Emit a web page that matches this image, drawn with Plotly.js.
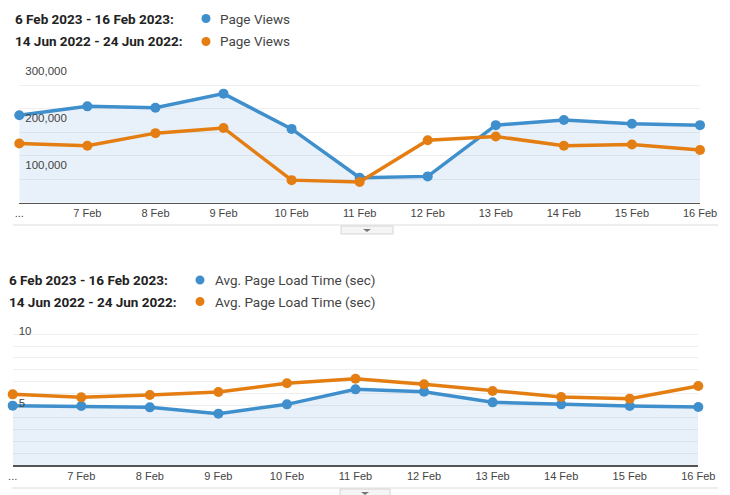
<!DOCTYPE html>
<html>
<head>
<meta charset="utf-8">
<script src="https://cdn.plot.ly/plotly-3.0.1.min.js"></script>
<style>
  html, body { margin: 0; padding: 0; background: #fff; }
  #plot { width: 730px; height: 495px; }
</style>
</head>
<body>
<div id="plot"></div>
<script>
// Categories and tick labels
const dates = ['6 Feb', '7 Feb', '8 Feb', '9 Feb', '10 Feb', '11 Feb', '12 Feb', '13 Feb', '14 Feb', '15 Feb', '16 Feb'];
const tickLabels = ['...', '7 Feb', '8 Feb', '9 Feb', '10 Feb', '11 Feb', '12 Feb', '13 Feb', '14 Feb', '15 Feb', '16 Feb'];

// Page views (top chart)
const viewsCurrent = [186000, 205000, 202000, 232000, 157000, 53000, 56000, 165000, 176000, 168000, 165000];
const viewsPrevious = [126000, 121000, 148000, 159000, 48000, 44000, 133000, 141000, 121000, 124000, 112000];

// Avg. page load time in seconds (bottom chart)
const loadCurrent = [4.16, 4.13, 4.04, 3.6, 4.25, 5.3, 5.14, 4.39, 4.25, 4.13, 4.06];
const loadPrevious = [4.95, 4.74, 4.91, 5.12, 5.73, 6.05, 5.66, 5.19, 4.77, 4.65, 5.54];

// Legend texts
const rangeCurrent = '6 Feb 2023 - 16 Feb 2023:';
const rangePrevious = '14 Jun 2022 - 24 Jun 2022:';

const BLUE = '#3f8fcd';
const ORANGE = '#e47e12';
const FILL = 'rgba(63,143,205,0.12)';
const GRID = '#efefef';

// pixel -> paper helpers (page is 730x495)
const W = 730, H = 495;
const px = x => x / W;
const py = y => 1 - y / H;

function line(x, y, color, xa, ya, fill) {
    return {
        x: x, y: y, xaxis: xa, yaxis: ya,
        type: 'scatter', mode: 'lines+markers',
        line: { color: color, width: 3.5 },
        marker: { color: color, size: 10 },
        fill: fill ? 'tozeroy' : 'none',
        fillcolor: FILL,
        cliponaxis: false,
        hoverinfo: 'skip'
    };
}

const data = [
    line(dates, viewsCurrent, BLUE, 'x', 'y', true),
    line(dates, viewsPrevious, ORANGE, 'x', 'y', false),
    line(dates, loadCurrent, BLUE, 'x2', 'y2', true),
    line(dates, loadPrevious, ORANGE, 'x2', 'y2', false)
];

const xCommon = {
    type: 'category',
    range: [0, 10],
    tickvals: dates,
    ticktext: tickLabels,
    ticks: '',
    showgrid: false,
    showline: true,
    linecolor: '#555',
    linewidth: 1.5,
    zeroline: false,
    ticklabeloverflow: 'allow',
    tickfont: { family: 'Liberation Sans, Arial', size: 11, color: '#444' },
    fixedrange: true
};

const yFont = { family: 'Liberation Sans, Arial', size: 11.5, color: '#444' };

// Legend labels as annotations
function legendText(x, y, text, bold) {
    return {
        xref: 'paper', yref: 'paper', x: px(x), y: py(y),
        xanchor: 'left', yanchor: 'middle', showarrow: false,
        text: bold ? '<b>' + text + '</b>' : text,
        font: { family: 'Roboto', size: 13.5, color: bold ? '#222' : '#444' }
    };
}

function dot(cx, cy, color) {
    const r = 4.5;
    return {
        type: 'circle', xref: 'paper', yref: 'paper',
        x0: px(cx - r), x1: px(cx + r), y0: py(cy + r), y1: py(cy - r),
        fillcolor: color, line: { width: 0 }
    };
}

function handle(x0, y0, x1, y1) {
    return [
        { type: 'rect', xref: 'paper', yref: 'paper', x0: px(x0), x1: px(x1), y0: py(y1), y1: py(y0),
          fillcolor: '#f5f5f5', line: { color: '#d6d6d6', width: 1 } },
        { type: 'path', xref: 'paper', yref: 'paper',
          path: `M ${px((x0 + x1) / 2 - 4)} ${py(y0 + 3)} L ${px((x0 + x1) / 2 + 4)} ${py(y0 + 3)} L ${px((x0 + x1) / 2)} ${py(y0 + 6)} Z`,
          fillcolor: '#777', line: { width: 0 } }
    ];
}

const layout = {
    width: W, height: H,
    margin: { l: 0, r: 0, t: 0, b: 0 },
    paper_bgcolor: '#fff',
    plot_bgcolor: 'rgba(0,0,0,0)',
    showlegend: false,
    xaxis: Object.assign({}, xCommon, { domain: [px(19.3), px(700)], anchor: 'y' }),
    yaxis: {
        domain: [py(202.7), py(61.7)],
        anchor: 'x',
        range: [0, 300000],
        tickvals: [0, 50000, 100000, 150000, 200000, 250000, 300000],
        ticktext: ['', '', '100,000', '', '200,000', '', '300,000'],
        ticks: '',
        ticklabelposition: 'inside',
        ticklabeloverflow: 'allow',
        ticklabelstandoff: 3,
        ticklabelshift: 9,
        gridcolor: GRID,
        zeroline: false,
        tickfont: yFont,
        fixedrange: true
    },
    xaxis2: Object.assign({}, xCommon, { domain: [px(12.7), px(698.3)], anchor: 'y2' }),
    yaxis2: {
        domain: [py(465), py(322.3)],
        anchor: 'x2',
        range: [0, 10],
        tickvals: [5, 10],
        ticktext: ['5', '10'],
        ticks: '',
        ticklabelposition: 'inside',
        ticklabeloverflow: 'allow',
        ticklabelstandoff: 3,
        ticklabelshift: 9,
        gridcolor: GRID,
        minor: { dtick: 10 / 12, showgrid: true, gridcolor: GRID, ticks: '' },
        zeroline: false,
        tickfont: yFont,
        fixedrange: true
    },
    annotations: [
        legendText(13, 18.5, rangeCurrent, true),
        legendText(13, 41.5, rangePrevious, true),
        legendText(218, 18.5, 'Page Views', false),
        legendText(218, 41.5, 'Page Views', false),
        legendText(7, 280, rangeCurrent, true),
        legendText(7, 301.5, rangePrevious, true),
        legendText(213, 280, 'Avg. Page Load Time (sec)', false),
        legendText(213, 301.5, 'Avg. Page Load Time (sec)', false)
    ],
    shapes: [
        dot(206, 18.5, BLUE),
        dot(206, 41.5, ORANGE),
        dot(200, 280, BLUE),
        dot(200, 301.5, ORANGE),
        { type: 'line', xref: 'paper', yref: 'paper', x0: px(13), x1: px(718), y0: py(225), y1: py(225),
          line: { color: '#dcdcdc', width: 1 } },
        { type: 'line', xref: 'paper', yref: 'paper', x0: px(12), x1: px(718), y0: py(488), y1: py(488),
          line: { color: '#dcdcdc', width: 1 } }
    ].concat(handle(341, 226, 393, 234), handle(340, 489, 390, 497))
};

const config = { displayModeBar: false, staticPlot: true };

Plotly.newPlot('plot', data, layout, config);
</script>
</body>
</html>
